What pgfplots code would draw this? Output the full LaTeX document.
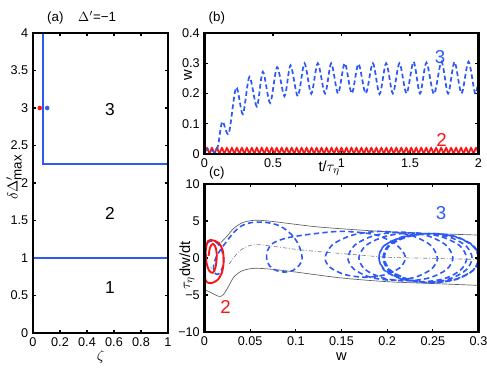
\documentclass[border=0pt]{standalone}
\usepackage{fontspec}
\setmainfont{Liberation Sans}
\usepackage{pgfplots}
\pgfplotsset{compat=1.18}
\definecolor{myblue}{RGB}{45,90,245}
\definecolor{myred}{RGB}{250,20,20}
\definecolor{mygray}{RGB}{95,95,95}
\pgfplotsset{
 every axis/.append style={
  scale only axis,
  axis line style={line width=1.9pt},
  tick align=inside, major tick length=2.5pt,
  tick style={black,line width=0.9pt},
  tick label style={font=\fontsize{9.5}{10}\selectfont},
  /pgf/number format/assume math mode=true,
  label style={font=\fontsize{11}{12}\selectfont},
  every axis title shift=0pt,
  clip mode=individual,
  after end axis/.code={\draw[black,line width=1.9pt] (rel axis cs:0,0) rectangle (rel axis cs:1,1);},
 }
}
\begin{document}
\begin{tikzpicture}
% ---------------- (a)
\begin{axis}[at={(24.75pt,28.5pt)}, anchor=south west,
  width=101.25pt, height=225pt,
  xmin=0,xmax=1,ymin=0,ymax=4,
  xtick={0,0.2,0.4,0.6,0.8,1}, xticklabels={0,0.2,0.4,0.6,0.8,1},
  ytick={0,0.5,1,1.5,2,2.5,3,3.5,4}, yticklabels={0,0.5,1,1.5,2,2.5,3,3.5,4},
  xlabel={$\zeta$},
  xlabel style={at={(axis description cs:0.5,-0.08)},anchor=center},
  ylabel={$\delta\Delta'_{\mbox{\fontsize{10}{11}\selectfont max}}$},
  ylabel style={at={(axis description cs:-0.14,0.52)},anchor=center},
  title={(a)\hspace{1.1em}$\Delta'$=−1},
  title style={at={(axis description cs:0.36,1.0)},anchor=south,font=\fontsize{10}{11}\selectfont,yshift=3pt},
]
\addplot[myblue,line width=1.2pt] coordinates {(0,1) (1,1)};
\addplot[myblue,line width=1.2pt] coordinates {(0.072,4) (0.072,2.25) (1,2.25)};
\addplot[only marks,mark=*,mark size=1.5pt,myred] coordinates {(0.05,3)};
\addplot[only marks,mark=*,mark size=1.5pt,myblue] coordinates {(0.105,3)};
\node[font=\fontsize{13}{14}\selectfont] at (axis cs:0.57,2.98) {3};
\node[font=\fontsize{13}{14}\selectfont] at (axis cs:0.57,1.6) {2};
\node[font=\fontsize{13}{14}\selectfont] at (axis cs:0.57,0.6) {1};
\end{axis}
% ---------------- (b)
\begin{axis}[at={(153.375pt,162.75pt)}, anchor=south west,
  width=205.5pt, height=90.75pt,
  xmin=0,xmax=2,ymin=0,ymax=0.4,
  xtick={0,0.5,1,1.5,2}, xticklabels={0,0.5,1,1.5,2},
  ytick={0,0.1,0.2,0.3,0.4}, yticklabels={0,0.1,0.2,0.3,0.4},
  xlabel={t/$\tau_{\eta}$},
  xlabel style={at={(axis description cs:0.455,-0.02)},anchor=north},
  ylabel={w},
  ylabel style={at={(axis description cs:-0.06,0.65)},anchor=center},
  title={(b)},
  title style={at={(axis description cs:0.045,1.0)},anchor=south,font=\fontsize{10}{11}\selectfont,yshift=3pt},
]
\addplot[myred,line width=1.3pt,smooth] coordinates {
(0,0.002)(0.0182,0.02)(0.0364,0.002)(0.0545,0.02)(0.0727,0.002)(0.0909,0.02)(0.1091,0.002)(0.1273,0.02)(0.1455,0.002)(0.1636,0.02)(0.1818,0.002)
(0.2,0.02)(0.2182,0.002)(0.2364,0.02)(0.2545,0.002)(0.2727,0.02)(0.2909,0.002)(0.3091,0.02)(0.3273,0.002)(0.3455,0.02)(0.3636,0.002)(0.3818,0.02)
(0.4,0.002)(0.4182,0.02)(0.4364,0.002)(0.4545,0.02)(0.4727,0.002)(0.4909,0.02)(0.5091,0.002)(0.5273,0.02)(0.5455,0.002)(0.5636,0.02)(0.5818,0.002)
(0.6,0.02)(0.6182,0.002)(0.6364,0.02)(0.6545,0.002)(0.6727,0.02)(0.6909,0.002)(0.7091,0.02)(0.7273,0.002)(0.7455,0.02)(0.7636,0.002)(0.7818,0.02)
(0.8,0.002)(0.8182,0.02)(0.8364,0.002)(0.8545,0.02)(0.8727,0.002)(0.8909,0.02)(0.9091,0.002)(0.9273,0.02)(0.9455,0.002)(0.9636,0.02)(0.9818,0.002)
(1.0,0.02)(1.0182,0.002)(1.0364,0.02)(1.0545,0.002)(1.0727,0.02)(1.0909,0.002)(1.1091,0.02)(1.1273,0.002)(1.1455,0.02)(1.1636,0.002)(1.1818,0.02)
(1.2,0.002)(1.2182,0.02)(1.2364,0.002)(1.2545,0.02)(1.2727,0.002)(1.2909,0.02)(1.3091,0.002)(1.3273,0.02)(1.3455,0.002)(1.3636,0.02)(1.3818,0.002)
(1.4,0.02)(1.4182,0.002)(1.4364,0.02)(1.4545,0.002)(1.4727,0.02)(1.4909,0.002)(1.5091,0.02)(1.5273,0.002)(1.5455,0.02)(1.5636,0.002)(1.5818,0.02)
(1.6,0.002)(1.6182,0.02)(1.6364,0.002)(1.6545,0.02)(1.6727,0.002)(1.6909,0.02)(1.7091,0.002)(1.7273,0.02)(1.7455,0.002)(1.7636,0.02)(1.7818,0.002)
(1.8,0.02)(1.8182,0.002)(1.8364,0.02)(1.8545,0.002)(1.8727,0.02)(1.8909,0.002)(1.9091,0.02)(1.9273,0.002)(1.9455,0.02)(1.9636,0.002)(1.9818,0.02)
(2.0,0.002)};
\addplot[myblue,line width=1.3pt,smooth,dash pattern=on 3.5pt off 2.2pt] coordinates {
(0,0.01)(0.04,0.016)(0.08,0.006)(0.1,0.03)(0.13,0.107)(0.177,0.068)(0.231,0.22)(0.28,0.132)(0.328,0.255)(0.382,0.157)
(0.426,0.272)(0.479,0.169)(0.53,0.287)(0.584,0.191)(0.628,0.293)(0.681,0.191)(0.73,0.30)(0.779,0.199)(0.827,0.30)(0.88,0.2)
(0.925,0.30)(0.975,0.2)(1.024,0.30)(1.075,0.2)(1.124,0.298)(1.177,0.2)(1.229,0.30)(1.278,0.198)(1.326,0.30)(1.375,0.2)
(1.423,0.30)(1.475,0.2)(1.526,0.305)(1.573,0.2)(1.62,0.302)(1.675,0.198)(1.73,0.305)(1.778,0.2)(1.825,0.305)(1.876,0.2)
(1.927,0.305)(1.975,0.2)(2.0,0.245)};
\node[font=\fontsize{14}{15}\selectfont,text=myblue] at (axis cs:1.72,0.32) {3};
\node[font=\fontsize{14}{15}\selectfont,text=myred] at (axis cs:1.73,0.045) {2};
\end{axis}
% ---------------- (c)
\begin{axis}[at={(153.375pt,29.25pt)}, anchor=south west,
  width=205.5pt, height=111pt,
  xmin=0,xmax=0.3,ymin=-10,ymax=10,
  xtick={0,0.05,0.1,0.15,0.2,0.25,0.3}, xticklabels={0,0.05,0.1,0.15,0.2,0.25,0.3},
  ytick={-10,-5,0,5,10}, yticklabels={−10,−5,0,5,10},
  xlabel={w},
  xlabel style={at={(axis description cs:0.5,-0.167)},anchor=center},
  ylabel={$\tau_{\eta}$dw/dt},
  ylabel style={at={(axis description cs:-0.064,0.45)},anchor=center},
  title={(c)},
  title style={at={(axis description cs:0.045,1.0)},anchor=south,font=\fontsize{10}{11}\selectfont,yshift=0pt},
]
\addplot[mygray,line width=0.5pt,smooth] coordinates {
(0.018,2.1)(0.025,3.0)(0.032,4.0)(0.042,4.8)(0.055,5.1)(0.07,5.0)(0.09,4.7)(0.12,4.25)(0.15,3.95)(0.2,3.55)(0.25,3.3)(0.3,3.1)};
\addplot[mygray,line width=0.5pt,smooth] coordinates {
(0.0,-4.3)(0.006,-4.6)(0.012,-5.0)(0.017,-5.2)(0.021,-4.9)(0.026,-3.9)(0.032,-2.6)(0.04,-1.8)(0.05,-1.45)(0.06,-1.4)(0.08,-1.6)(0.1,-1.9)(0.15,-2.7)(0.2,-3.2)(0.25,-3.45)(0.3,-3.7)};
\addplot[gray,line width=0.5pt,smooth,dash pattern=on 3pt off 1.5pt on 0.6pt off 1.5pt] coordinates {
(0.027,-0.8)(0.033,0.2)(0.04,1.1)(0.05,1.7)(0.06,1.8)(0.08,1.5)(0.105,1.1)(0.14,0.7)(0.17,0.4)(0.2,0.1)(0.25,-0.05)(0.3,-0.2)};
\addplot[cyan!50!green!60,line width=0.5pt,dash pattern=on 2pt off 1.5pt] coordinates {(0.002,-0.8)(0.008,-1.4)(0.014,-1.9)};
\addplot[myblue,line width=1.2pt,smooth,dash pattern=on 4pt off 2.5pt] coordinates {
(0.001,-2.6)(0.0008,-1.0)(0.001,0.8)(0.003,2.0)(0.008,2.3)(0.014,2.0)(0.019,1.0)(0.021,-0.3)(0.019,-1.5)(0.015,-2.2)(0.011,-2.0)(0.010,-1.0)(0.013,0.2)(0.018,1.2)(0.024,2.2)(0.031,3.3)(0.040,4.3)(0.052,4.8)(0.068,4.8)(0.083,4.3)(0.095,3.2)(0.103,1.8)(0.107,0)
(0.1039,-0.95)(0.0973,-1.65)(0.0875,-1.9)(0.0778,-1.65)(0.0706,-0.95)(0.068,0)
(0.069,1.0)(0.075,2.0)(0.09,2.7)(0.115,3.2)(0.15,3.6)(0.185,3.2)(0.205,2.2)(0.215,1.2)(0.22,0)
(0.2141,-1.3)(0.198,-2.25)(0.176,-2.6)(0.154,-2.25)(0.1379,-1.3)(0.132,0)
(0.1402,1.8)(0.1628,3.12)(0.1935,3.6)(0.2243,3.12)(0.2468,1.8)(0.255,0)
(0.2484,-1.5)(0.2305,-2.6)(0.206,-3.0)(0.1815,-2.6)(0.1636,-1.5)(0.157,0)
(0.1647,1.75)(0.1858,3.03)(0.2145,3.5)(0.2433,3.03)(0.2643,1.75)(0.272,0)
(0.2651,-1.55)(0.2463,-2.68)(0.2205,-3.1)(0.1948,-2.68)(0.1759,-1.55)(0.169,0)
(0.1769,1.7)(0.1985,2.94)(0.228,3.4)(0.2575,2.94)(0.2791,1.7)(0.287,0)
(0.2806,-1.6)(0.263,-2.77)(0.239,-3.2)(0.215,-2.77)(0.1974,-1.6)(0.191,0)
(0.1968,1.65)(0.2165,2.86)(0.242,3.3)(0.2675,2.86)(0.2862,1.65)(0.293,0)
(0.2862,-1.65)(0.2675,-2.86)(0.242,-3.3)(0.2165,-2.86)(0.1968,-1.65)(0.191,0)
(0.1965,1.65)(0.2185,2.86)(0.248,3.3)(0.2745,2.86)(0.2935,1.65)(0.3,0)
(0.294,-1.65)(0.275,-2.86)(0.249,-3.35)(0.223,-2.86)(0.2035,-1.65)(0.197,0)
(0.2025,1.65)(0.2225,2.86)(0.249,3.3)(0.2755,2.86)(0.2945,1.65)(0.301,0)
(0.2945,-1.65)(0.2755,-2.9)(0.249,-3.35)(0.2225,-2.9)(0.2025,-1.65)(0.196,0)
(0.202,1.7)(0.222,2.9)(0.2485,3.32)(0.275,2.9)(0.294,1.7)(0.3005,0)
(0.294,-1.7)(0.275,-2.9)(0.2485,-3.32)(0.222,-2.9)(0.202,-1.7)(0.1955,0)
(0.2015,1.7)(0.2215,2.9)(0.248,3.3)(0.2745,2.9)(0.294,1.7)(0.3,0)
(0.294,-1.68)(0.2745,-2.88)(0.248,-3.3)(0.2215,-2.88)(0.2015,-1.68)(0.1958,0)};
\addplot[myred,line width=1.4pt,smooth] coordinates {
(0.0005,-2.6)(0.002,-3.2)(0.007,-3.4)(0.014,-3.0)(0.019,-2.0)(0.021,-0.5)(0.020,1.0)(0.016,2.0)(0.009,2.4)(0.004,2.3)(0.0015,1.2)(0.002,-0.5)(0.005,-1.7)(0.009,-2.0)(0.012,-1.3)(0.0135,0.3)(0.012,1.5)(0.009,1.9)(0.006,1.4)(0.0045,0.3)};
\node[font=\fontsize{14}{15}\selectfont,text=myblue] at (axis cs:0.259,6.1) {3};
\node[font=\fontsize{14}{15}\selectfont,text=myred] at (axis cs:0.023,-6.6) {2};
\end{axis}
\pgfresetboundingbox
\path[use as bounding box] (0,0) rectangle (365.25pt,278.25pt);
\end{tikzpicture}
\end{document}
